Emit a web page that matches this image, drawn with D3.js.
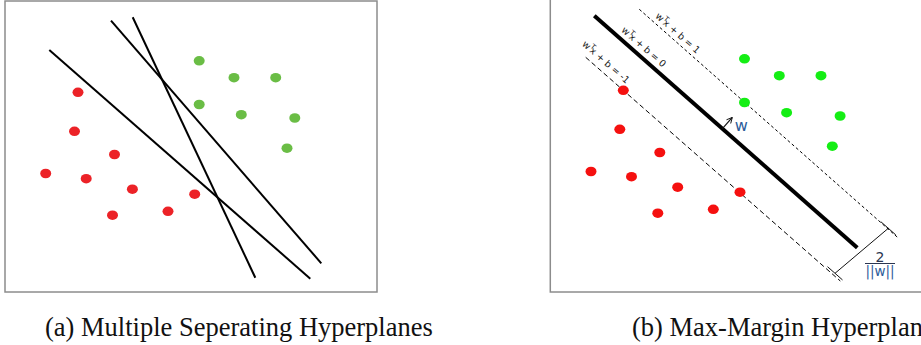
<!DOCTYPE html>
<html>
<head>
<meta charset="utf-8">
<script src="https://cdn.jsdelivr.net/npm/d3@7"></script>
<style>
  body { margin: 0; background: #fff; }
</style>
</head>
<body>
<div id="svm-figure"></div>
<script>
// sample points in panel units, both panels show the same sample
const redPoints = [[73, 91.3], [69.5, 130.3], [109.5, 153.5], [40.7, 172.5], [81.2, 177.7],
  [127.4, 188.2], [189.7, 193.2], [107.5, 214.2], [163, 210.3]];
const greenPoints = [[194.2, 59.8], [229, 76.7], [270.7, 76.7], [194.2, 103.5], [236.3, 113.7],
  [289.8, 117], [282, 147.2]];
// (a) three arbitrary separating lines: x1, y1, x2, y2
const separators = [[44.3, 49, 305.3, 277.7], [106, 19.7, 316.3, 262.3], [127.7, 16.3, 250.3, 276.7]];
// (b) max-margin hyperplane (b = 0) and the two margins
const hyperplaneB = [1, 0, -1];
const hyperplaneEnds = [[89, 10.3, 348, 239], [44, 16.7, 307, 248.7], [35.4, 58.3, 290, 282]];
const marginEnds = [284.7, 274.3, 338, 229.3];
const captions = ['(a) Multiple Seperating Hyperplanes', '(b) Max-Margin Hyperplanes'];

const width = 921;
const height = 345;
const svg = d3.select('#svm-figure').append('svg')
  .attr('width', width)
  .attr('height', height);

svg.append('defs')
  .append('marker')
  .attr('id', 'arrow-w')
  .attr('viewBox', '0 -5 10 10')
  .attr('refX', 9)
  .attr('refY', 0)
  .attr('markerWidth', 7)
  .attr('markerHeight', 7)
  .attr('markerUnits', 'userSpaceOnUse')
  .attr('orient', 'auto')
  .append('path')
  .attr('fill', 'none')
  .attr('stroke', '#111')
  .attr('stroke-width', 1.3)
  .attr('d', 'M1,-4L9,0L1,4');

function makePanel(ox, oy, boxTop) {
  const x = d3.scaleLinear().domain([0, 372]).range([ox, ox + 372]);
  const y = d3.scaleLinear().domain([0, 291]).range([oy, oy + 291]);
  const g = svg.append('g');
  g.append('rect')
    .attr('x', ox)
    .attr('y', boxTop)
    .attr('width', 372)
    .attr('height', 292 - boxTop)
    .attr('fill', 'none')
    .attr('stroke', '#8c8c8c')
    .attr('stroke-width', 1.5);
  return { x, y, g };
}

function drawPoints(p, red, green) {
  [[redPoints, red], [greenPoints, green]].forEach(([pts, color]) => {
    p.g.append('g')
      .selectAll('ellipse')
      .data(pts)
      .join('ellipse')
      .attr('cx', (d) => p.x(d[0]))
      .attr('cy', (d) => p.y(d[1]))
      .attr('rx', 5.5)
      .attr('ry', 4.8)
      .attr('fill', color);
  });
}

// (a)
const pa = makePanel(5, 1, 1);
pa.g.append('g')
  .selectAll('line')
  .data(separators)
  .join('line')
  .attr('x1', (d) => pa.x(d[0]))
  .attr('y1', (d) => pa.y(d[1]))
  .attr('x2', (d) => pa.x(d[2]))
  .attr('y2', (d) => pa.y(d[3]))
  .attr('stroke', '#000')
  .attr('stroke-width', 2);
drawPoints(pa, '#ec2227', '#6abd45');

// (b)
const pb = makePanel(550.3, -1, -1);
const lineStyle = [
  { w: 1, dash: '3,2.5' },
  { w: 4, dash: null },
  { w: 1, dash: '5,3' }
];
// where each equation label sits: fraction along the line, offset off it
const labelPos = [{ t: 0.129, off: 7.8 }, { t: 0.165, off: 9.4 }, { t: 0.054, off: 9.9 }];

hyperplaneEnds.forEach((e, i) => {
  const x1 = pb.x(e[0]), y1 = pb.y(e[1]), x2 = pb.x(e[2]), y2 = pb.y(e[3]);
  pb.g.append('line')
    .attr('x1', x1).attr('y1', y1)
    .attr('x2', x2).attr('y2', y2)
    .attr('stroke', '#000')
    .attr('stroke-width', lineStyle[i].w)
    .attr('stroke-dasharray', lineStyle[i].dash);

  const len = Math.hypot(x2 - x1, y2 - y1);
  const dx = (x2 - x1) / len, dy = (y2 - y1) / len;
  const ang = Math.atan2(dy, dx) * 180 / Math.PI;
  const lp = labelPos[i];
  const cx = x1 + dx * len * lp.t + dy * lp.off;
  const cy = y1 + dy * len * lp.t - dx * lp.off;
  const label = pb.g.append('text')
    .attr('transform', `translate(${cx},${cy}) rotate(${ang})`)
    .attr('text-anchor', 'middle')
    .attr('dy', '0.35em')
    .attr('font-family', 'DejaVu Sans, sans-serif')
    .attr('font-size', 9.5)
    .attr('fill', '#222');
  label.append('tspan').text('w');
  label.append('tspan').attr('dy', -4).attr('font-size', 7).text('T');
  label.append('tspan').attr('dy', 4).attr('dx', -2).text(`x + b = ${hyperplaneB[i]}`);
});

// normal vector w on the hyperplane
{
  const e = hyperplaneEnds[1];
  const x1 = pb.x(e[0]), y1 = pb.y(e[1]), x2 = pb.x(e[2]), y2 = pb.y(e[3]);
  const len = Math.hypot(x2 - x1, y2 - y1);
  const dx = (x2 - x1) / len, dy = (y2 - y1) / len;
  const sx = x1 + dx * len * 0.487, sy = y1 + dy * len * 0.487;
  pb.g.append('line')
    .attr('x1', sx).attr('y1', sy)
    .attr('x2', sx + dy * 15).attr('y2', sy - dx * 15)
    .attr('stroke', '#111')
    .attr('stroke-width', 1.2)
    .attr('marker-end', 'url(#arrow-w)');
  pb.g.append('text')
    .attr('x', sx + dy * 15 + 9)
    .attr('y', sy - dx * 15 + 14)
    .attr('text-anchor', 'middle')
    .attr('font-family', 'DejaVu Sans, sans-serif')
    .attr('font-size', 16)
    .attr('fill', '#2d5c9a')
    .text('w');
}

// margin bracket 2/||w||
{
  const bx1 = pb.x(marginEnds[0]), by1 = pb.y(marginEnds[1]);
  const bx2 = pb.x(marginEnds[2]), by2 = pb.y(marginEnds[3]);
  pb.g.append('line')
    .attr('x1', bx1).attr('y1', by1)
    .attr('x2', bx2).attr('y2', by2)
    .attr('stroke', '#111')
    .attr('stroke-width', 1);
  const ux = 0.75, uy = 0.662;
  [[bx1, by1], [bx2, by2]].forEach(([px, py]) => {
    pb.g.append('line')
      .attr('x1', px - ux * 10).attr('y1', py - uy * 10)
      .attr('x2', px + ux * 10).attr('y2', py + uy * 10)
      .attr('stroke', '#111')
      .attr('stroke-width', 1);
  });
  const fx = 880;
  pb.g.append('text')
    .attr('x', fx).attr('y', 261.5)
    .attr('text-anchor', 'middle')
    .attr('font-family', 'DejaVu Sans, sans-serif')
    .attr('font-size', 14)
    .attr('fill', '#2a3550')
    .text('2');
  pb.g.append('line')
    .attr('x1', fx - 15).attr('y1', 263.5)
    .attr('x2', fx + 15).attr('y2', 263.5)
    .attr('stroke', '#2a3550')
    .attr('stroke-width', 1);
  pb.g.append('text')
    .attr('x', fx).attr('y', 276)
    .attr('text-anchor', 'middle')
    .attr('font-family', 'DejaVu Sans, sans-serif')
    .attr('font-size', 13.5)
    .attr('fill', '#2d5c9a')
    .text('||w||');
}
drawPoints(pb, '#f5100f', '#14ee14');

svg.append('g')
  .selectAll('text')
  .data(captions)
  .join('text')
  .attr('x', (d, i) => [45, 632][i])
  .attr('y', 336)
  .attr('font-family', 'Liberation Serif, Times New Roman, serif')
  .attr('font-size', 26.5)
  .attr('fill', '#111')
  .text((d) => d);
</script>
</body>
</html>
